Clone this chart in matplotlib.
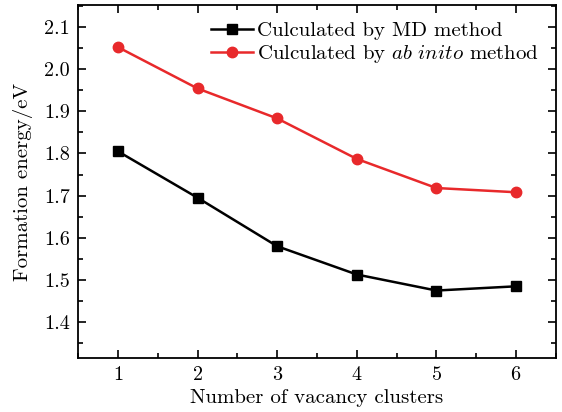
import matplotlib
matplotlib.use('Agg')
import matplotlib.pyplot as plt
from matplotlib.ticker import MultipleLocator

plt.rcParams['font.family'] = 'serif'
plt.rcParams['font.serif'] = ['cmr10']
plt.rcParams['mathtext.fontset'] = 'cm'
plt.rcParams['axes.formatter.use_mathtext'] = True

clusters = [1, 2, 3, 4, 5, 6]
md_energy = [1.805, 1.695, 1.580, 1.513, 1.475, 1.485]
abinito_energy = [2.052, 1.954, 1.883, 1.787, 1.718, 1.708]

fig = plt.figure(figsize=(5.62, 4.12), dpi=100)
ax = fig.add_axes([0.139, 0.131, 0.850, 0.857])

ax.plot(clusters, md_energy, color='black', marker='s', markersize=7, lw=1.8,
        label='Culculated by MD method')
ax.plot(clusters, abinito_energy, color='#e8292b', marker='o', markersize=7.5, lw=1.8,
        label=r'Culculated by $\mathit{ab\ inito}$ method')

ax.set_xlim(0.5, 6.5)
ax.set_ylim(1.315, 2.152)
ax.xaxis.set_major_locator(MultipleLocator(1))
ax.xaxis.set_minor_locator(MultipleLocator(0.5))
ax.yaxis.set_major_locator(MultipleLocator(0.1))
ax.yaxis.set_minor_locator(MultipleLocator(0.05))
ax.tick_params(which='both', direction='in', top=True, right=True, labelsize=14.5, width=1.2)
ax.tick_params(which='major', length=6, pad=6)
ax.tick_params(which='minor', length=3.5)
ax.yaxis.set_major_formatter(plt.FuncFormatter(lambda v, p: '%.1f' % v))
for s in ax.spines.values():
    s.set_linewidth(1.3)

ax.set_xlabel('Number of vacancy clusters', fontsize=15, labelpad=3)
ax.set_ylabel('Formation energy/eV', fontsize=15, labelpad=8)

ax.legend(loc='upper right', frameon=False, fontsize=15, handlelength=2.0,
          handletextpad=0.2, labelspacing=0.15, borderaxespad=0.4)

fig.savefig('out.png', dpi=100)
